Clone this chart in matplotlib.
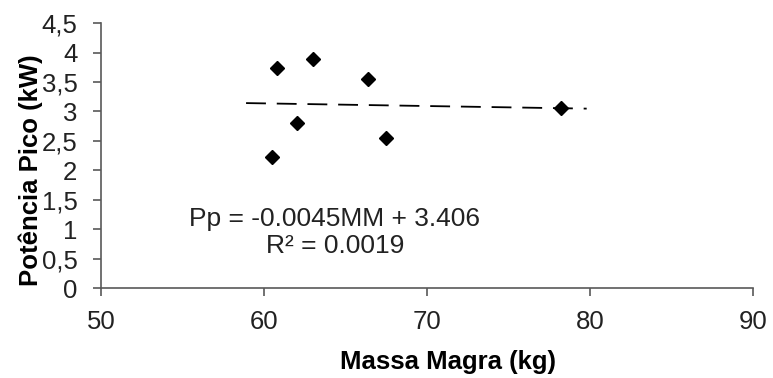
import numpy as np
import matplotlib.pyplot as plt

plt.rcParams['font.family'] = ['Liberation Sans', 'DejaVu Sans']

# Massa Magra (kg) vs Potência Pico (kW)
massa = [60.5, 60.8, 62.0, 63.0, 66.4, 67.5, 78.2]
potencia = [2.22, 3.74, 2.80, 3.89, 3.55, 2.55, 3.05]

slope = -0.0045
intercept = 3.406
trend_x = [58.9, 79.8]

x_ticks = [50, 60, 70, 80, 90]
y_ticks = [0, 0.5, 1, 1.5, 2, 2.5, 3, 3.5, 4, 4.5]
y_labels = ['0', '0,5', '1', '1,5', '2', '2,5', '3', '3,5', '4', '4,5']

fig = plt.figure(figsize=(7.73, 3.78), dpi=100)
ax = fig.add_axes([0.1307, 0.238, 0.8433, 0.701])

tx = np.array(trend_x)
ax.plot(tx, slope * tx + intercept, color='black', lw=1.3, dashes=(11, 6))
ax.plot(massa, potencia, 'D', color='black', ms=6.8, ls='none')

ax.set_xlim(50, 90)
ax.set_ylim(0, 4.5)
ax.set_xticks(x_ticks)
ax.set_yticks(y_ticks)
ax.set_yticklabels(y_labels)

for side in ['top', 'right']:
    ax.spines[side].set_visible(False)
for side in ['left', 'bottom']:
    ax.spines[side].set_color('#595959')
    ax.spines[side].set_linewidth(1.2)
ax.tick_params(direction='out', length=6, width=1.2, color='#595959',
               labelsize=18.5, labelcolor='#222222')
ax.tick_params(axis='x', pad=10)
ax.tick_params(axis='y', pad=11)

ax.set_xlabel('Massa Magra (kg)', fontsize=18.5, fontweight='bold')
ax.set_ylabel('Potência Pico (kW)', fontsize=18.5, fontweight='bold')
ax.xaxis.set_label_coords(0.532, -0.235)
ax.yaxis.set_label_coords(-0.089, 0.445)

ax.text(64.35, 0.95, 'Pp = -0.0045MM + 3.406\nR² = 0.0019',
        ha='center', va='center', fontsize=19, color='#222222',
        linespacing=1.15)

fig.savefig('out.png', dpi=100)
